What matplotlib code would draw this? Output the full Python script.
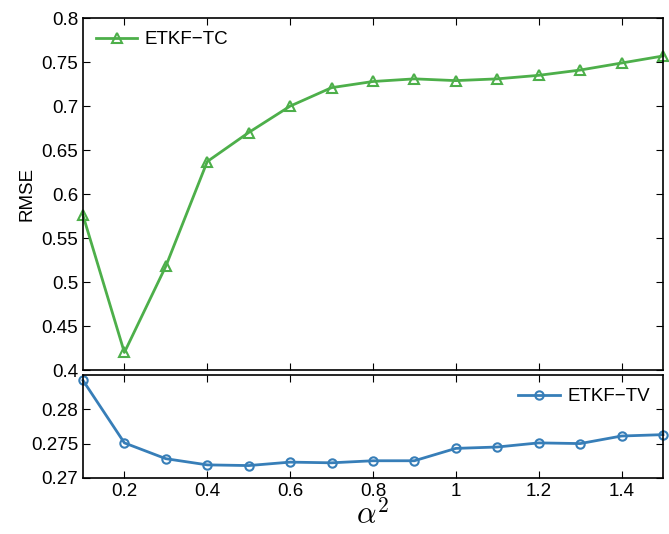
import matplotlib
matplotlib.use("Agg")
import matplotlib.pyplot as plt

alpha2 = [0.1, 0.2, 0.3, 0.4, 0.5, 0.6, 0.7, 0.8, 0.9, 1.0, 1.1, 1.2, 1.3, 1.4, 1.5]
rmse_tc = [0.576, 0.420, 0.518, 0.637, 0.670, 0.700, 0.721, 0.728, 0.731, 0.729,
           0.731, 0.735, 0.741, 0.749, 0.757]
rmse_tv = [0.2842, 0.2751, 0.2728, 0.2719, 0.2718, 0.2723, 0.2722, 0.2725, 0.2725,
           0.2743, 0.2745, 0.2751, 0.2750, 0.2761, 0.2763]
top_yticks = [0.4, 0.45, 0.5, 0.55, 0.6, 0.65, 0.7, 0.75, 0.8]
top_ylabels = ["0.4", "0.45", "0.5", "0.55", "0.6", "0.65", "0.7", "0.75", "0.8"]
bot_yticks = [0.27, 0.275, 0.28]
bot_ylabels = ["0.27", "0.275", "0.28"]
xticks = [0.2, 0.4, 0.6, 0.8, 1.0, 1.2, 1.4]
xlabels = ["0.2", "0.4", "0.6", "0.8", "1", "1.2", "1.4"]

plt.rcParams['font.family'] = ['Liberation Sans', 'DejaVu Sans']
plt.rcParams['mathtext.fontset'] = 'cm'
green = '#4daf4a'
blue = '#377eb8'

fig = plt.figure(figsize=(6.69, 5.34), dpi=100)
ax1 = fig.add_axes([0.124, 0.307, 0.867, 0.659])
ax2 = fig.add_axes([0.124, 0.105, 0.867, 0.193])

ax1.plot(alpha2, rmse_tc, color=green, lw=2, marker='^', ms=7, mfc='none', mew=1.5,
         label='ETKF\u2212TC', clip_on=False)
ax2.plot(alpha2, rmse_tv, color=blue, lw=2, marker='o', ms=6, mfc='none', mew=1.5,
         label='ETKF\u2212TV', clip_on=False)

for ax in (ax1, ax2):
    ax.set_xlim(0.1, 1.5)
    ax.set_xticks(xticks)
    ax.tick_params(direction='in', top=True, right=True, labelsize=13.5, length=5)
    for s in ax.spines.values():
        s.set_linewidth(1.2)

ax1.set_ylim(0.4, 0.8)
ax1.set_yticks(top_yticks)
ax1.set_yticklabels(top_ylabels)
ax1.set_xticklabels([])
ax1.set_ylabel('RMSE', fontsize=13.5)

ax2.set_ylim(0.27, 0.285)
ax2.set_yticks(bot_yticks)
ax2.set_yticklabels(bot_ylabels)
ax2.set_xticklabels(xlabels)
ax2.set_xlabel(r'$\alpha^2$', fontsize=22, labelpad=0)

ax1.legend(loc='upper left', frameon=False, fontsize=13.5, handlelength=2.2,
           borderaxespad=0.3, handletextpad=0.4)
ax2.legend(loc='upper right', frameon=False, fontsize=13.5, handlelength=2.2,
           borderaxespad=0.3, handletextpad=0.4)

fig.savefig('out.png', dpi=100)
